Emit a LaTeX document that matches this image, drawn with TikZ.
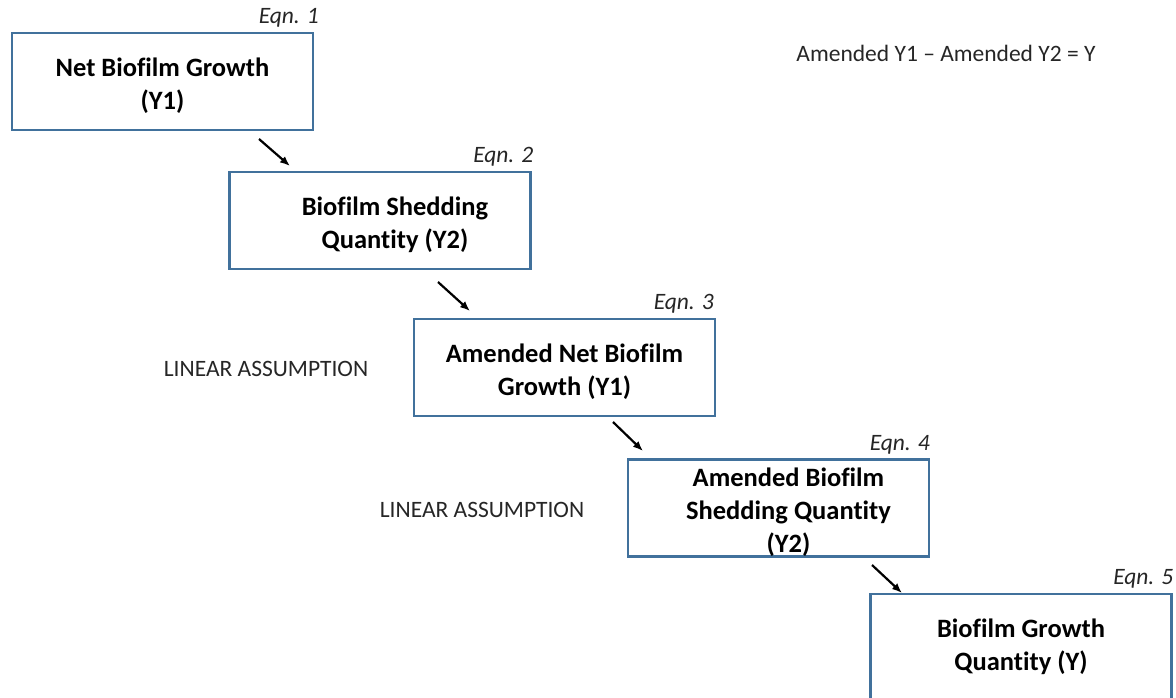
\documentclass[tikz,border=0pt]{standalone}
\usepackage{fontspec}
\setmainfont{Carlito}[Ligatures=NoCommon]
\usetikzlibrary{arrows.meta,positioning}
\definecolor{boxblue}{RGB}{65,113,156}
\definecolor{txtgrey}{RGB}{38,38,38}
\newcommand{\topgap}{\rule{0pt}{27pt}}
\tikzset{
    eqbox/.style={draw=boxblue, line width=2.2pt, minimum width=301pt, minimum height=97pt,
        align=center, inner sep=0pt, font=\fontsize{26.5}{33}\selectfont\bfseries},
    eqnum/.style={anchor=base east, inner sep=0pt, text=txtgrey,
        font=\fontsize{23.5}{28}\selectfont\itshape},
    note/.style={inner sep=0pt, text=txtgrey, font=\fontsize{23.5}{28}\selectfont},
    flow/.style={-{Latex[length=10pt,width=8pt]}, line width=2.2pt}
}

\begin{document}
\begin{tikzpicture}[x=1pt,y=-1pt]
    \clip (0,0) rectangle (1176,697);
    % the five steps
    \node[eqbox] (growth)   at (162.5,81.5)  {\topgap Net Biofilm Growth\\(Y1)};
    \node[eqbox] (shed)     at (380,220.5)   {\topgap\hspace*{30pt}Biofilm Shedding\\\hspace*{30pt}Quantity (Y2)};
    \node[eqbox] (amgrowth) at (564.5,367.5) {\topgap Amended Net Biofilm\\Growth (Y1)};
    \node[eqbox] (amshed)   at (778.5,508)   {\topgap\hspace*{20pt}Amended Biofilm\\\hspace*{20pt}Shedding Quantity\\\hspace*{20pt}(Y2)};
    \node[eqbox, minimum height=106pt] (total) at (1021,647) {Biofilm Growth\\Quantity (Y)};

    % equation numbers
    \node[eqnum] (eq1) at ([shift={(5,-8)}]growth.north east)   {Eqn. 1};
    \node[eqnum] (eq2) at ([shift={(2,-8)}]shed.north east)     {Eqn. 2};
    \node[eqnum] (eq3) at ([shift={(-2,-8)}]amgrowth.north east) {Eqn. 3};
    \node[eqnum] (eq4) at ([shift={(0,-8)}]amshed.north east)   {Eqn. 4};
    \node[eqnum] (eq5) at ([shift={(1,-8)}]total.north east)    {Eqn. 5};

    % side notes
    \node[note] (lin1) at (266,369) {LINEAR ASSUMPTION};
    \node[note] (lin2) at (482,510) {LINEAR ASSUMPTION};
    \node[note] (result) at (946,53) {Amended Y1 -- Amended Y2 = Y};

    % arrows
    \coordinate (a1s) at (259,139); \coordinate (a1e) at (290,166);
    \coordinate (a2s) at (438,282); \coordinate (a2e) at (470,311);
    \coordinate (a3s) at (613,422); \coordinate (a3e) at (643,451);
    \coordinate (a4s) at (872,565); \coordinate (a4e) at (902,593);
    \draw[flow] (a1s) -- (a1e);
    \draw[flow] (a2s) -- (a2e);
    \draw[flow] (a3s) -- (a3e);
    \draw[flow] (a4s) -- (a4e);
\end{tikzpicture}
\end{document}
